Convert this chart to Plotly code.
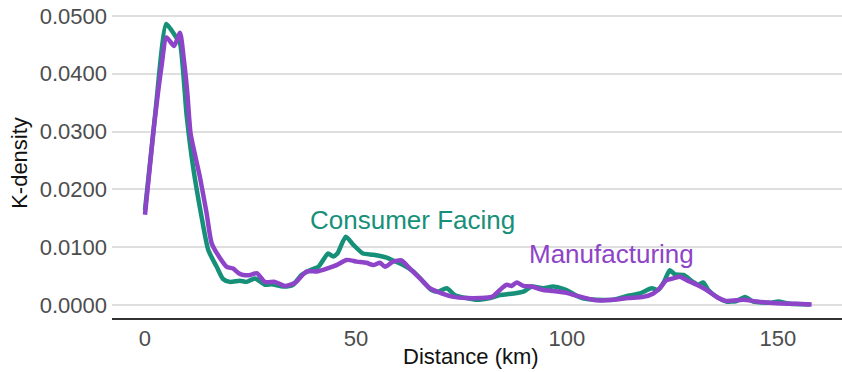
import plotly.graph_objects as go

# Kernel density of plant-to-market distance, by sector
cf_km = [0, 2.4, 5.0, 6.0, 7.5, 8.3, 9.9, 11.4, 13.4, 15.0, 17.0, 18.5, 20.1, 22.5, 24.1,
         26.1, 28.4, 30.0, 32.8, 35.1, 37.1, 39.1, 41.1, 43.4, 44.6, 45.6, 47.6, 49.4,
         51.7, 54.1, 57.3, 58.8, 61.2, 63.6, 66.0, 67.9, 69.5, 71.5, 73.5, 76.2, 78.6,
         81.8, 84.1, 87.3, 89.7, 91.6, 94.4, 96.8, 99.9, 102.3, 104.0, 107.0, 111.0,
         114.5, 117.3, 120.1, 121.6, 123.0, 124.4, 125.6, 127.6, 129.9, 131.1, 132.3,
         133.5, 135.5, 137.8, 140.2, 142.2, 144.2, 148.1, 150.1, 152.8, 157.6]
cf_density = [0.0164, 0.0329, 0.0486, 0.0478, 0.0462, 0.0453, 0.0326, 0.0239, 0.0153,
              0.0095, 0.0066, 0.0045, 0.0040, 0.0042, 0.0040, 0.0046, 0.0035, 0.0036,
              0.0032, 0.0035, 0.0052, 0.0060, 0.0066, 0.0089, 0.0084, 0.0089, 0.0118,
              0.0104, 0.0089, 0.0087, 0.0082, 0.0077, 0.0069, 0.0058, 0.0040, 0.0026,
              0.0023, 0.0029, 0.0017, 0.0012, 0.0009, 0.0012, 0.0017, 0.0020, 0.0023,
              0.0032, 0.0029, 0.0032, 0.0026, 0.0016, 0.0011, 0.0009, 0.0009, 0.0016,
              0.0020, 0.0029, 0.0026, 0.0040, 0.0060, 0.0053, 0.0052, 0.0040, 0.0035,
              0.0039, 0.0026, 0.0014, 0.0006, 0.0007, 0.0014, 0.0006, 0.0004, 0.0006,
              0.0002, 0.0001]

mf_km = [0, 2.0, 3.9, 5.1, 6.9, 8.3, 9.2, 10.0, 10.8, 12.0, 13.0, 14.6, 15.8, 17.8,
         19.4, 20.9, 22.2, 23.3, 25.0, 26.5, 28.4, 30.8, 33.2, 35.5, 38.3, 40.7, 43.1,
         45.4, 47.8, 50.2, 52.5, 54.1, 55.7, 56.9, 58.8, 60.8, 62.8, 65.2, 67.5, 70.3,
         73.1, 76.2, 79.4, 82.2, 84.1, 85.7, 86.9, 88.1, 89.7, 91.6, 94.4, 96.8, 99.9,
         102.3, 107.0, 111.0, 114.5, 118.1, 120.5, 122.0, 123.6, 125.2, 126.8, 128.4,
         130.8, 133.1, 135.5, 137.8, 141.8, 145.0, 149.7, 154.4, 158.0]
mf_density = [0.0156, 0.0300, 0.0412, 0.0463, 0.0448, 0.0471, 0.0425, 0.0370, 0.0297,
              0.0255, 0.0222, 0.0159, 0.0107, 0.0081, 0.0066, 0.0063, 0.0055, 0.0052,
              0.0052, 0.0055, 0.0040, 0.0040, 0.0033, 0.0038, 0.0058, 0.0058, 0.0063,
              0.0069, 0.0078, 0.0075, 0.0073, 0.0069, 0.0073, 0.0066, 0.0075, 0.0077,
              0.0063, 0.0046, 0.0029, 0.0020, 0.0014, 0.0012, 0.0012, 0.0014, 0.0026,
              0.0035, 0.0033, 0.0039, 0.0033, 0.0032, 0.0026, 0.0024, 0.0021, 0.0016,
              0.0008, 0.0009, 0.0012, 0.0014, 0.0020, 0.0029, 0.0043, 0.0046, 0.0049,
              0.0043, 0.0035, 0.0026, 0.0014, 0.0007, 0.0009, 0.0006, 0.0003, 0.0002,
              0.0001]

y_ticks = [0.0, 0.01, 0.02, 0.03, 0.04, 0.05]
y_tick_labels = ["0.0000", "0.0100", "0.0200", "0.0300", "0.0400", "0.0500"]
x_ticks = [0, 50, 100, 150]

GREEN = "#17907a"
PURPLE = "#8e44c8"
FONT = "Liberation Sans, Arial, Helvetica, sans-serif"

fig = go.Figure()
fig.add_trace(go.Scatter(x=cf_km, y=cf_density, mode="lines", name="Consumer Facing",
                         line=dict(color=GREEN, width=4.5, shape="spline", smoothing=0.6)))
fig.add_trace(go.Scatter(x=mf_km, y=mf_density, mode="lines", name="Manufacturing",
                         line=dict(color=PURPLE, width=4.5, shape="spline", smoothing=0.6)))

# Direct series labels
fig.add_annotation(x=63.3, y=0.0147, text="Consumer Facing", showarrow=False,
                   font=dict(family=FONT, size=26, color=GREEN),
                   xanchor="center", yanchor="middle")
fig.add_annotation(x=110.6, y=0.0088, text="Manufacturing", showarrow=False,
                   font=dict(family=FONT, size=26, color=PURPLE),
                   xanchor="center", yanchor="middle")

# x-axis title
fig.add_annotation(xref="paper", yref="paper", x=0.4918, y=-0.123,
                   text="Distance (km)", showarrow=False,
                   font=dict(family=FONT, size=22, color="#111111"),
                   xanchor="center", yanchor="middle")

fig.update_layout(
    width=842, height=372,
    margin=dict(l=112, r=0, t=8, b=54),
    paper_bgcolor="white", plot_bgcolor="white",
    showlegend=False,
    font=dict(family=FONT, size=22, color="#4d4d4d"),
    xaxis=dict(
        range=[-7.82, 165.2], tickvals=x_ticks, showgrid=False, zeroline=False,
        showline=True, linecolor="#333333", linewidth=1.5, ticks="",
        tickfont=dict(size=22, color="#4d4d4d"),
    ),
    yaxis=dict(
        range=[-0.00225, 0.05138], tickvals=y_ticks, ticktext=y_tick_labels,
        showgrid=True, gridcolor="#dedede", gridwidth=1.5, zeroline=False,
        showline=False, ticks="", ticklabelstandoff=4,
        tickfont=dict(size=22, color="#4d4d4d"),
        title=dict(text="K-density", font=dict(size=22, color="#111111"), standoff=6),
    ),
)

fig.write_html("out.html")
